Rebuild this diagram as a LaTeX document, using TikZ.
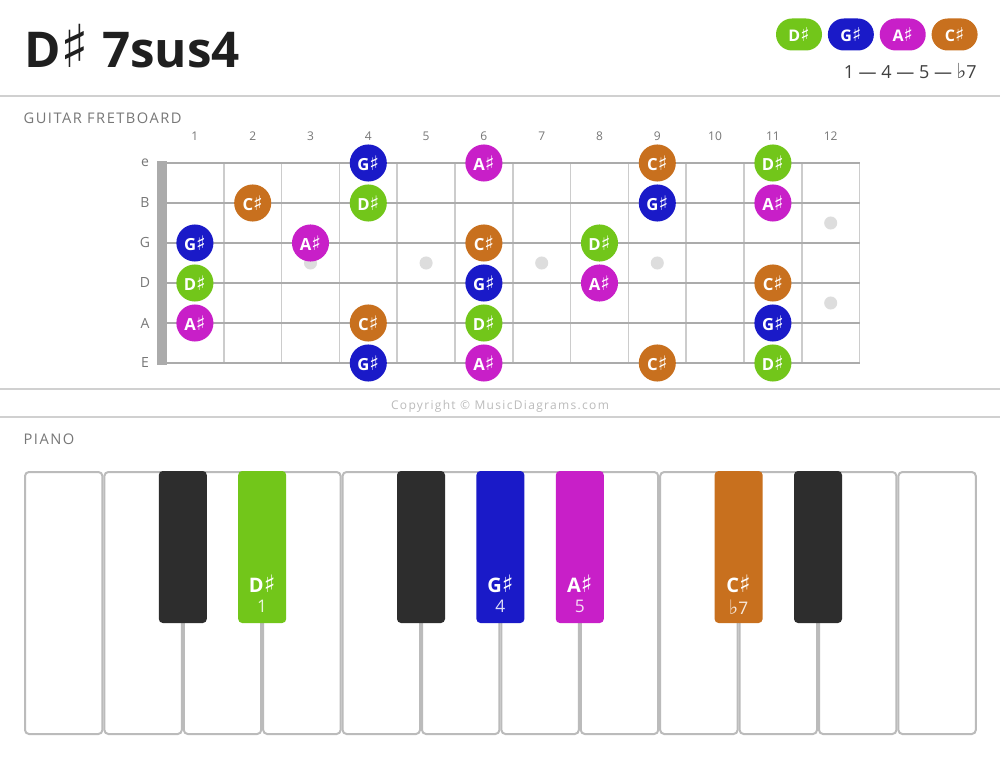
\documentclass[tikz,border=0pt]{standalone}
\usepackage{fontspec}
\setmainfont{Open Sans}
\newfontfamily\symfont{DejaVu Sans}
\usetikzlibrary{positioning}
\newcommand{\shp}{{\symfont\scalebox{1.2}{\char"266F}}}
\newcommand{\flt}{{\symfont\scalebox{1.15}{\char"266D}}}
\definecolor{notegreen}{HTML}{72C61A}
\definecolor{noteblue}{HTML}{1A1AC8}
\definecolor{notemag}{HTML}{C81FC8}
\definecolor{noteorange}{HTML}{C8701E}
\definecolor{keydark}{HTML}{2D2D2D}
\definecolor{rulegray}{HTML}{D0D0D0}
\definecolor{fretgray}{HTML}{CCCCCC}
\definecolor{stringgray}{HTML}{ABABAB}
\definecolor{dotgray}{HTML}{DDDDDD}
\definecolor{labelgray}{HTML}{777777}
\definecolor{keyline}{HTML}{BBBBBB}
\tikzset{%
	note/.style     = {circle, minimum size=27.8pt, inner sep=0pt, text=white, font=\fontsize{12.5}{12.5}\selectfont\bfseries},
	noteD/.style    = {note, fill=notegreen}, % root
	noteG/.style    = {note, fill=noteblue}, % fourth
	noteA/.style    = {note, fill=notemag}, % fifth
	noteC/.style    = {note, fill=noteorange}, % flat seventh
	pill/.style     = {rectangle, rounded corners=12pt, minimum width=34.5pt, minimum height=24pt, inner sep=0pt, text=white, font=\fontsize{12}{12}\selectfont\bfseries},
	heading/.style  = {anchor=west, text=labelgray, font=\fontsize{11}{11}\selectfont\addfontfeatures{LetterSpace=10}},
	fretnum/.style  = {text=labelgray, font=\fontsize{9}{9}\selectfont},
	strname/.style  = {text=labelgray, font=\fontsize{10.5}{11}\selectfont},
	fret/.style     = {fretgray, line width=1.2pt},
	whitekey/.style = {draw=keyline, line width=1.5pt, fill=white, rounded corners=3pt},
	keyname/.style  = {text=white, inner sep=0pt, font=\fontsize{15}{15}\selectfont\bfseries},
	keydeg/.style   = {text=white, text opacity=0.85, inner sep=0pt, font=\fontsize{13}{13}\selectfont},
}
\begin{document}
\begin{tikzpicture}[x=0.75pt, y=-0.75pt]
		\useasboundingbox[fill=white] (0,0) rectangle (1000,759);
		% title and legend
		\node[anchor=base west, inner sep=0pt, text=black!88, font=\fontsize{37}{37}\selectfont\bfseries] (title) at (24,68) {D\shp{} 7sus4};
		\node[pill, fill=notegreen] (lgD) at (799,34.5) {D\shp};
		\node[pill, fill=noteblue, right=4pt of lgD] (lgG) {G\shp};
		\node[pill, fill=notemag, right=4pt of lgG] (lgA) {A\shp};
		\node[pill, fill=noteorange, right=4pt of lgA] (lgC) {C\shp};
		\node[anchor=east, inner sep=0pt, text=black!75, font=\fontsize{13.5}{13.5}\selectfont] (steps) at (977,71) {1 — 4 — 5 — \flt7};
		\draw[rulegray, line width=1.5pt] (0,96) -- (1000,96);
		% fretboard
		\node[heading] (gtr) at (19,118) {GUITAR FRETBOARD};
		\foreach \n in {1,...,12} {
			\node[fretnum] (fn\n) at ({166+57.8*(\n-0.5)},136) {\n};
			\draw[fret] ({166+57.8*\n},163) -- ({166+57.8*\n},363);
		}
		\foreach \y/\w/\s in {163/1.5/e,203/1.6/B,243/1.7/G,283/1.8/D,323/2.0/A,363/2.2/E} {
			\node[strname] (sn\s) at (145,\y) {\s};
			\draw[stringgray, line width=\w pt] (157,\y) -- (860,\y);
		}
		\fill[stringgray] (157,161) rectangle (167,365);
		\foreach \x/\y in {310.5/263,426.1/263,541.7/263,657.3/263,830.7/223,830.7/303}
			\fill[dotgray] (\x,\y) circle (4.9pt);
		\node[noteG] (e4) at (368.3,163) {G\shp};
		\node[noteA] (e6) at (483.9,163) {A\shp};
		\node[noteC] (e9) at (657.3,163) {C\shp};
		\node[noteD] (e11) at (772.9,163) {D\shp};
		\node[noteC] (B2) at (252.7,203) {C\shp};
		\node[noteD] (B4) at (368.3,203) {D\shp};
		\node[noteG] (B9) at (657.3,203) {G\shp};
		\node[noteA] (B11) at (772.9,203) {A\shp};
		\node[noteG] (G1) at (194.9,243) {G\shp};
		\node[noteA] (G3) at (310.5,243) {A\shp};
		\node[noteC] (G6) at (483.9,243) {C\shp};
		\node[noteD] (G8) at (599.5,243) {D\shp};
		\node[noteD] (D1) at (194.9,283) {D\shp};
		\node[noteG] (D6) at (483.9,283) {G\shp};
		\node[noteA] (D8) at (599.5,283) {A\shp};
		\node[noteC] (D11) at (772.9,283) {C\shp};
		\node[noteA] (A1) at (194.9,323) {A\shp};
		\node[noteC] (A4) at (368.3,323) {C\shp};
		\node[noteD] (A6) at (483.9,323) {D\shp};
		\node[noteG] (A11) at (772.9,323) {G\shp};
		\node[noteG] (E4) at (368.3,363) {G\shp};
		\node[noteA] (E6) at (483.9,363) {A\shp};
		\node[noteC] (E9) at (657.3,363) {C\shp};
		\node[noteD] (E11) at (772.9,363) {D\shp};
		\draw[rulegray, line width=1.5pt] (0,389) -- (1000,389);
		\node[text=keyline, font=\fontsize{9}{9}\selectfont\addfontfeatures{LetterSpace=11}] (copy) at (500,406) {Copyright © MusicDiagrams.com};
		\draw[rulegray, line width=1.5pt] (0,417) -- (1000,417);
		% piano
		\node[heading] (pno) at (19,439) {PIANO};
		\foreach \i in {0,...,11}
			\draw[whitekey] ({25+79.4*\i},472) rectangle ++(77.4,262);
		\foreach \k/\c in {2/keydark,3/notegreen,5/keydark,6/noteblue,7/notemag,9/noteorange,10/keydark}
			\fill[\c, rounded corners=3pt] ({24+79.4*\k-24},471) rectangle ++(48,152);
		\node[keyname] (kD) at (262.2,584) {D\shp};
		\node[keydeg, below=5pt of kD] (kD1) {1};
		\node[keyname] (kG) at (500.4,584) {G\shp};
		\node[keydeg, below=5pt of kG] (kG4) {4};
		\node[keyname] (kA) at (579.8,584) {A\shp};
		\node[keydeg, below=5pt of kA] (kA5) {5};
		\node[keyname] (kC) at (738.6,584) {C\shp};
		\node[keydeg, below=5pt of kC] (kC7) {\flt7};
\end{tikzpicture}
\end{document}
